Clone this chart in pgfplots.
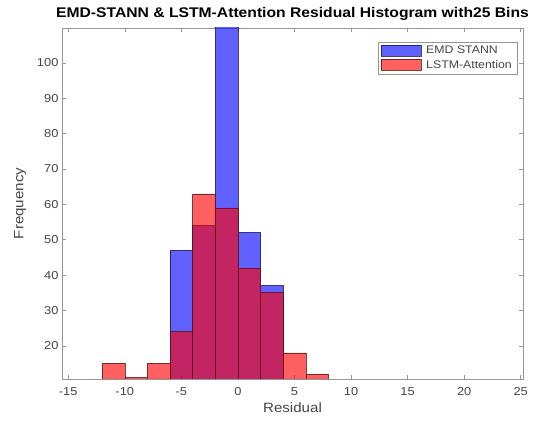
\documentclass[border=0pt]{standalone}
\usepackage{pgfplots}
\pgfplotsset{compat=1.18}
\usepackage{fontspec}
\setmainfont{Liberation Sans}[FakeStretch=1.12]
\usetikzlibrary{calc}
\definecolor{axgray}{RGB}{150,150,150}
\definecolor{txtgray}{RGB}{70,70,70}
\begin{document}
\begin{tikzpicture}
\begin{axis}[
  scale only axis,
  width=461pt, height=351pt,
  xmin=-15.55, xmax=25.2,
  ymin=10.6, ymax=109.9,
  xtick={-15,-10,...,25},
  ytick={20,30,...,100},
  tick pos=both,
  tick align=inside,
  major tick length=4pt,
  axis line style={axgray, line width=0.6pt},
  every tick/.style={axgray, line width=0.5pt},
  tick label style={font=\fontsize{11.5}{13}\selectfont, text=txtgray},
  xticklabel style={yshift=-5pt},
  /pgf/number format/assume math mode=true,
  xticklabel={\pgfmathprintnumber[assume math mode=true]{\tick}},
  yticklabel={\pgfmathprintnumber[assume math mode=true]{\tick}},
  xlabel={Residual},
  ylabel={Frequency},
  label style={font=\fontsize{13.5}{15}\selectfont, text=txtgray},
  xlabel style={yshift=0pt},
  ylabel style={yshift=4pt},
  title={\bfseries EMD-STANN \& LSTM-Attention Residual Histogram with25 Bins},
  title style={font=\fontsize{14}{16}\selectfont, yshift=-2pt},
  legend style={at={(0.987,0.96)}, anchor=north east, draw=axgray,
    font=\fontsize{11}{12}\selectfont, text=txtgray, row sep=1pt,
    inner xsep=3pt, inner ysep=2pt},
  legend cell align=left,
]
\addplot[ybar interval, fill={rgb,255:red,0;green,0;blue,255}, fill opacity=0.62,
  draw={rgb,255:red,20;green,20;blue,90}, draw opacity=0.8, line width=0.5pt,
  area legend,
  legend image code/.code={\fill[fill={rgb,255:red,0;green,0;blue,255}, fill opacity=0.62] (0pt,-5pt) rectangle (40pt,6pt);}]
  coordinates {(-12,0) (-10,0) (-8,0) (-6,47) (-4,54) (-2,125) (0,52) (2,37) (4,0) (6,0) (8,0)};
\addlegendentry{\hspace{3pt}EMD STANN}
\addplot[ybar interval, fill={rgb,255:red,255;green,0;blue,0}, fill opacity=0.62,
  draw={rgb,255:red,90;green,20;blue,20}, draw opacity=0.8, line width=0.5pt,
  area legend,
  legend image code/.code={\fill[fill={rgb,255:red,255;green,0;blue,0}, fill opacity=0.62] (0pt,-5pt) rectangle (40pt,6pt);}]
  coordinates {(-12,15) (-10,11) (-8,15) (-6,24) (-4,63) (-2,59) (0,42) (2,35) (4,18) (6,12) (8,12)};
\addlegendentry{\hspace{3pt}LSTM-Attention}
\end{axis}
\path ($(current axis.south west)+(-62pt,-46pt)$) rectangle ($(current axis.north east)+(13pt,28pt)$);
\end{tikzpicture}
\end{document}
